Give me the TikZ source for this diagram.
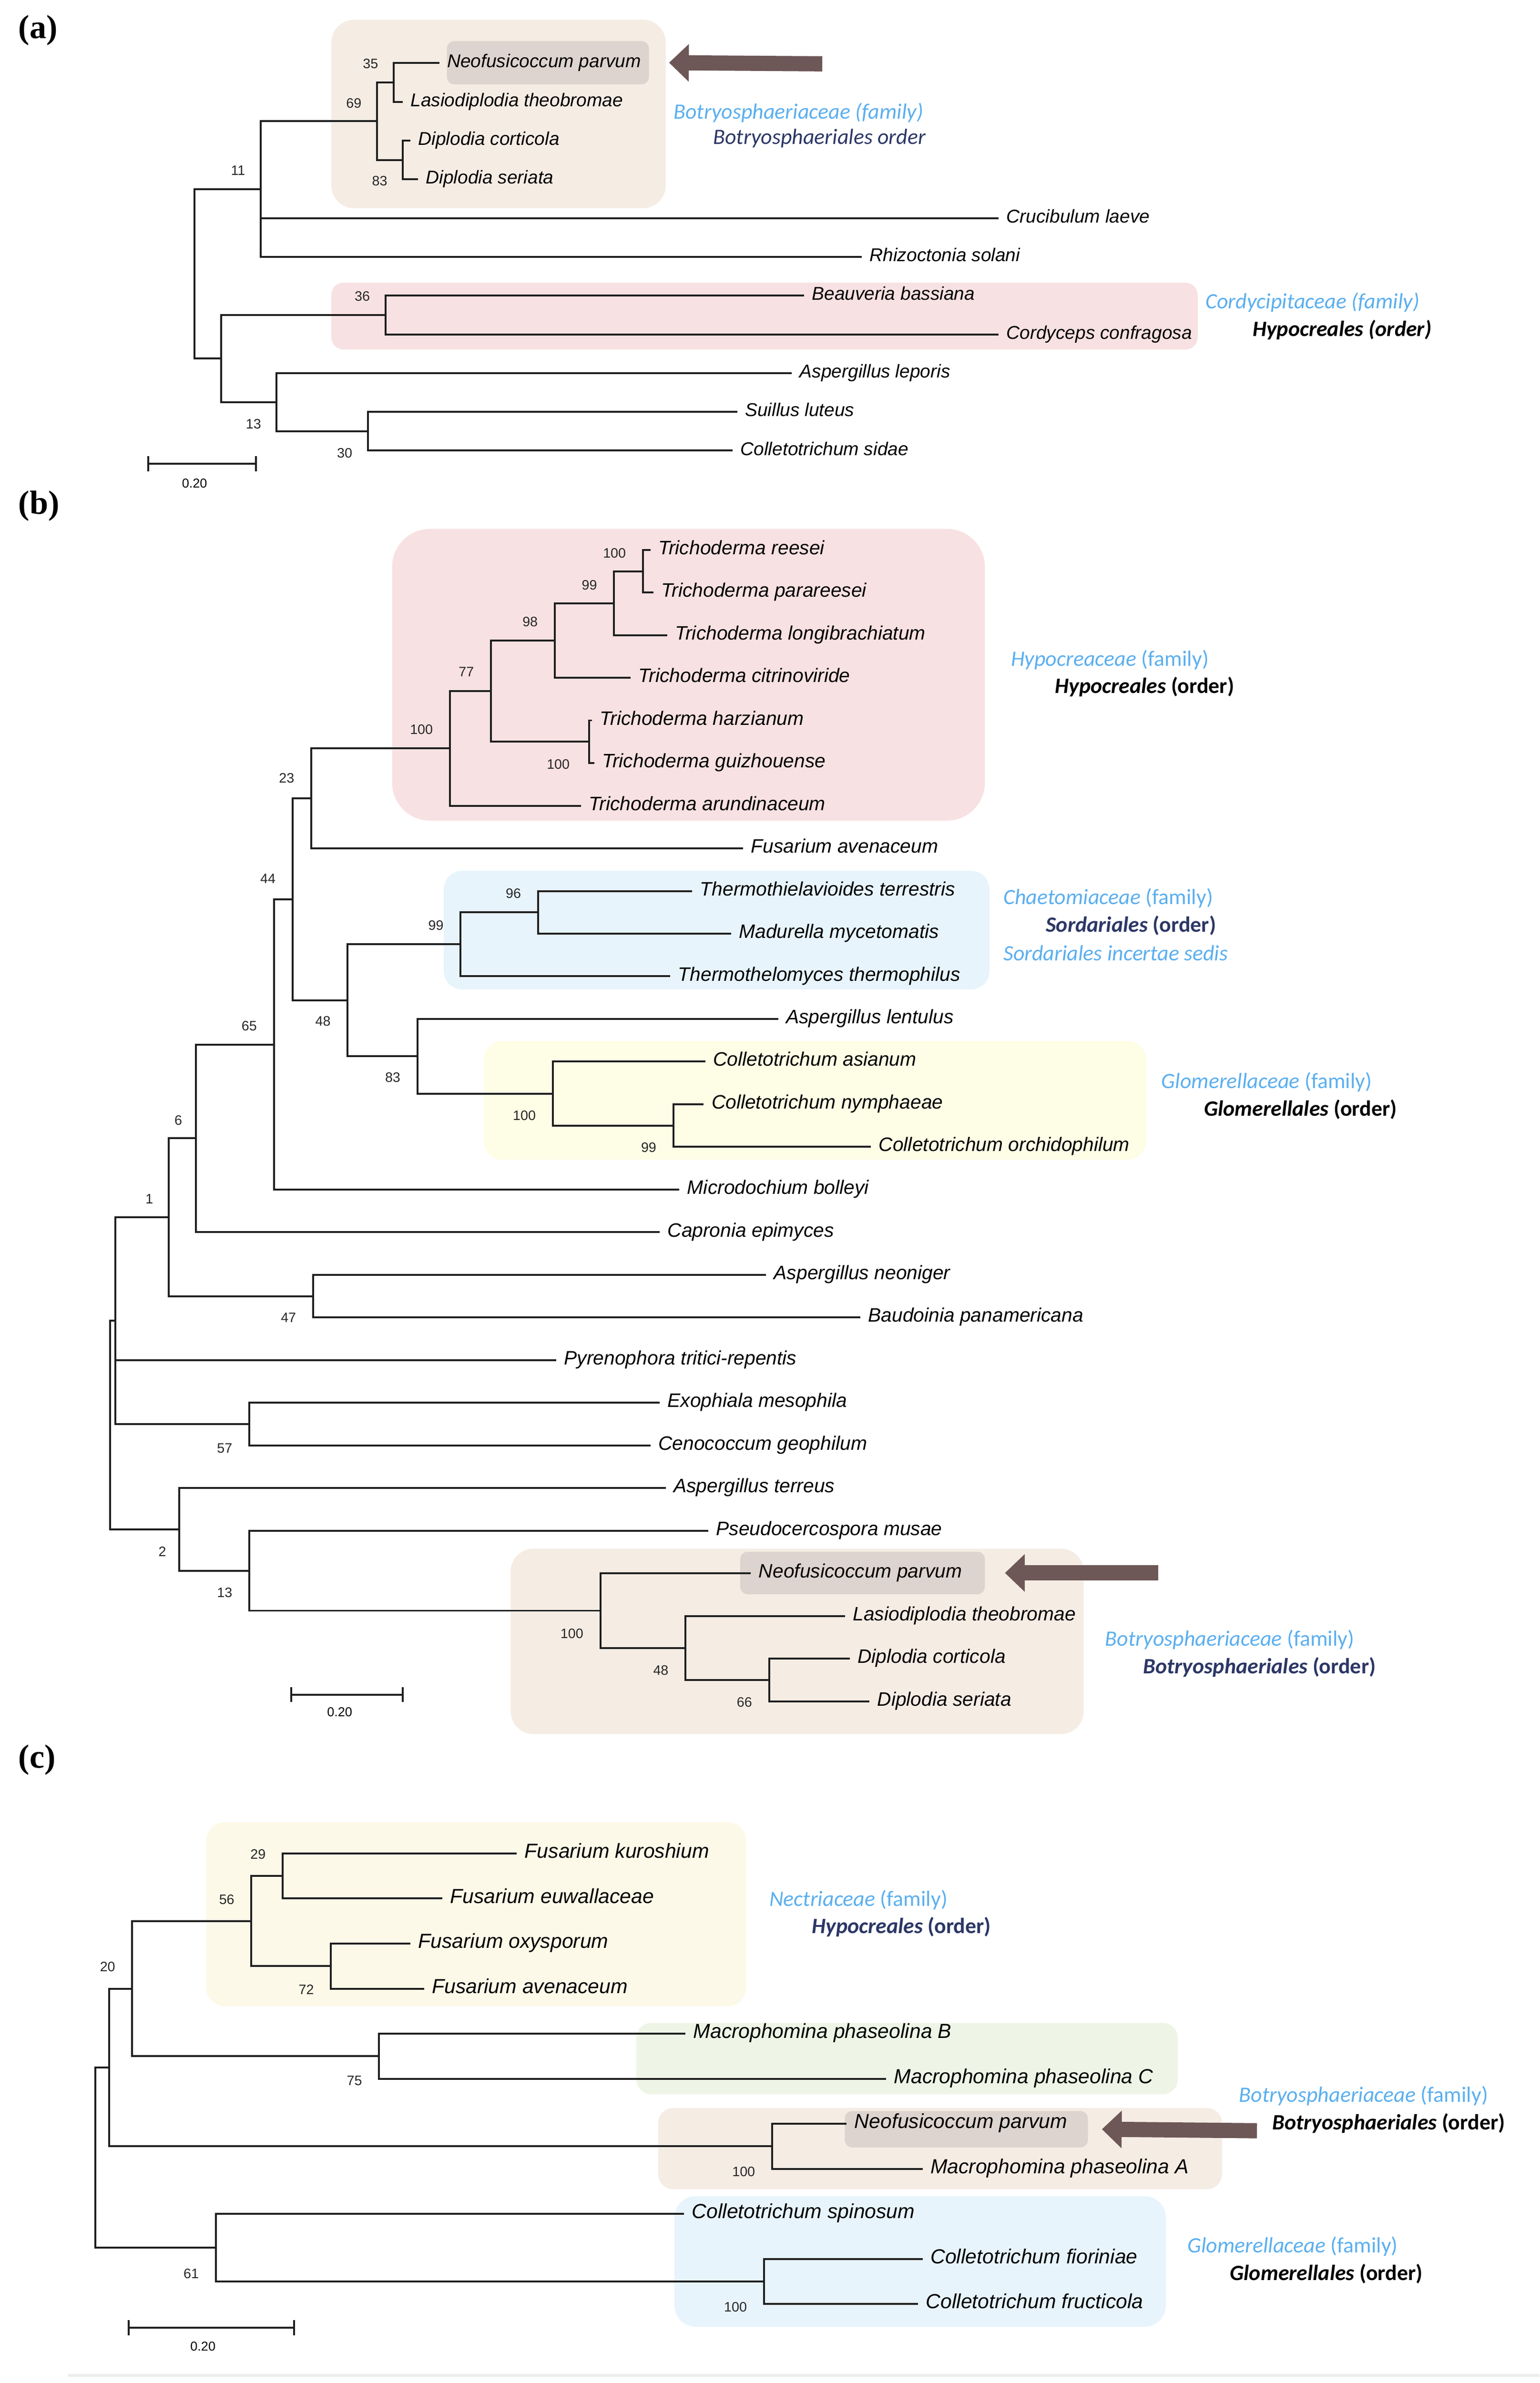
\documentclass[tikz,border=0pt]{standalone}
\usepackage{fontspec}
\setmainfont{Liberation Serif}
\setsansfont{Liberation Sans}
\newfontfamily\calfont{Carlito}
\usetikzlibrary{arrows.meta}

\definecolor{boxtan}{HTML}{F5ECE4}
\definecolor{boxpink}{HTML}{F8E1E2}
\definecolor{boxblue}{HTML}{E7F4FC}
\definecolor{boxyellow}{HTML}{FEFDE5}
\definecolor{boxcream}{HTML}{FDF9E8}
\definecolor{boxgreen}{HTML}{EEF5E6}
\definecolor{hlgray}{HTML}{DDD4CF}
\definecolor{arrowbrown}{HTML}{6D5757}
\definecolor{famblue}{HTML}{5BAFEF}
\definecolor{ordnavy}{HTML}{2C3766}
\definecolor{twigcol}{HTML}{1E1E1E}

\newcommand{\fsz}[1]{\fontsize{#1}{#1}\selectfont}

\tikzset{
  taxon/.style={anchor=west, inner xsep=5pt, inner ysep=0pt, text height=8.5pt, text depth=2.5pt, font=\sffamily\itshape\fsz{#1}},
  taxA/.style={taxon=12.2},
  taxB/.style={taxon=12.8},
  taxC/.style={taxon=13.4},
  boot/.style={anchor=east, inner sep=0pt, font=\sffamily\fsz{9}, text=black!85},
  twig/.style={draw=twigcol, line width=1.25pt},
  fam/.style={anchor=west, inner sep=0pt, font=\calfont\fsz{14.4}, text=famblue},
  ord/.style={anchor=west, inner sep=0pt, font=\calfont\bfseries\fsz{14.4}, text=#1},
  hl/.style={fill=hlgray, rounded corners=5pt, inner sep=0pt},
  fatarrow/.style={draw=arrowbrown, line width=10pt, -{Triangle[length=13pt, width=24pt]}},
  scalebar/.style={draw=twigcol, line width=1.25pt, {Bar[width=10pt]}-{Bar[width=10pt]}},
  sclabel/.style={inner sep=0pt, font=\sffamily\fsz{8.5}},
  panel/.style={anchor=west, inner sep=0pt, font=\rmfamily\bfseries\fsz{22}}
}

\begin{document}
\begin{tikzpicture}[x=1pt,y=-1pt]
\useasboundingbox (0,0) rectangle (1013,1568);

% ---------------- (a)
\node[panel] (pa) at (12,20) {(a)};

\fill[boxtan, rounded corners=15pt] (218,13) rectangle (438,137);
\fill[boxpink, rounded corners=8pt] (218,186) rectangle (788,230);
\node[hl, minimum width=133pt, minimum height=28.5pt] (aHl) at (360.5,41.25) {};

\node[taxA] (aNp) at (289,41.5) {Neofusicoccum parvum};
\node[taxA] (aLt) at (265,67) {Lasiodiplodia theobromae};
\node[taxA] (aDc) at (270,92.5) {Diplodia corticola};
\node[taxA] (aDs) at (275,118) {Diplodia seriata};
\node[taxA] (aCl) at (657,143.5) {Crucibulum laeve};
\node[taxA] (aRs) at (567,169) {Rhizoctonia solani};
\node[taxA] (aBb) at (529,194.5) {Beauveria bassiana};
\node[taxA] (aCc) at (657,220) {Cordyceps confragosa};
\node[taxA] (aAl) at (521,245.5) {Aspergillus leporis};
\node[taxA] (aSl) at (485,271) {Suillus luteus};
\node[taxA] (aCs) at (482,296.5) {Colletotrichum sidae};

\coordinate (a35) at (259,54.25);
\coordinate (a83) at (265,105.25);
\coordinate (a69) at (248,79.75);
\coordinate (a11) at (171.5,124.4);
\coordinate (a36) at (253.6,207.25);
\coordinate (a30) at (242,283.75);
\coordinate (a13) at (182,264.6);
\coordinate (aB) at (145.6,235.9);
\coordinate (aR) at (128,180.2);

\draw[twig] (a35) |- (aNp.west);
\draw[twig] (a35) |- (aLt.west);
\draw[twig] (a83) |- (aDc.west);
\draw[twig] (a83) |- (aDs.west);
\draw[twig] (a69) |- (a35);
\draw[twig] (a69) |- (a83);
\draw[twig] (a11) |- (a69);
\draw[twig] (a11) |- (aCl.west);
\draw[twig] (a11) |- (aRs.west);
\draw[twig] (a36) |- (aBb.west);
\draw[twig] (a36) |- (aCc.west);
\draw[twig] (a30) |- (aSl.west);
\draw[twig] (a30) |- (aCs.west);
\draw[twig] (a13) |- (aAl.west);
\draw[twig] (a13) |- (a30);
\draw[twig] (aB) |- (a36);
\draw[twig] (aB) |- (a13);
\draw[twig] (aR) |- (a11);
\draw[twig] (aR) |- (aB);

\node[boot] (ba35) at (249,42) {35};
\node[boot] (ba69) at (238,68) {69};
\node[boot] (ba83) at (255,119) {83};
\node[boot] (ba11) at (161.5,112) {11};
\node[boot] (ba36) at (243.6,195) {36};
\node[boot] (ba13) at (172,279) {13};
\node[boot] (ba30) at (232,298) {30};

\coordinate (aArr) at (541,42);
\draw[fatarrow] (aArr) -- ([xshift=13pt]aHl.east);

\node[fam] (aFam1) at (443,74) {\itshape Botryosphaeriaceae (family)};
\node[fam, text=ordnavy] (aOrd1) at (469,91) {\itshape Botryosphaeriales order};
\node[fam] (aFam2) at (793,199) {\itshape Cordycipitaceae (family)};
\node[ord=black] (aOrd2) at (824,217) {\itshape Hypocreales (order)};

\coordinate (aSb1) at (97,305);
\coordinate (aSb2) at (169,305);
\draw[scalebar] (aSb1) -- (aSb2);
\node[sclabel] (aSbl) at (128,318) {0.20};

% ---------------- (b)
\node[panel] (pb) at (12,333) {(b)};

\fill[boxpink, rounded corners=25pt] (258,348) rectangle (648,540);
\fill[boxblue, rounded corners=12pt] (292,573) rectangle (651,651);
\fill[boxyellow, rounded corners=12pt] (318.5,685) rectangle (754,763);
\fill[boxtan, rounded corners=15pt] (336,1019) rectangle (713,1141);
\node[hl, minimum width=161pt, minimum height=28pt] (bHl) at (567.5,1035) {};

\node[taxB] (bTr) at (428,361.8) {Trichoderma reesei};
\node[taxB] (bTp) at (430,389.9) {Trichoderma parareesei};
\node[taxB] (bTl) at (439,417.9) {Trichoderma longibrachiatum};
\node[taxB] (bTc) at (415,446.0) {Trichoderma citrinoviride};
\node[taxB] (bTh) at (389.5,474.0) {Trichoderma harzianum};
\node[taxB] (bTg) at (391,502.1) {Trichoderma guizhouense};
\node[taxB] (bTa) at (382.4,530.2) {Trichoderma arundinaceum};
\node[taxB] (bFa) at (489,558.2) {Fusarium avenaceum};
\node[taxB] (bTt) at (455.4,586.3) {Thermothielavioides terrestris};
\node[taxB] (bMm) at (481,614.3) {Madurella mycetomatis};
\node[taxB] (bTm) at (441,642.4) {Thermothelomyces thermophilus};
\node[taxB] (bAl) at (512,670.5) {Aspergillus lentulus};
\node[taxB] (bCa) at (464,698.5) {Colletotrichum asianum};
\node[taxB] (bCn) at (463,726.6) {Colletotrichum nymphaeae};
\node[taxB] (bCo) at (573,754.6) {Colletotrichum orchidophilum};
\node[taxB] (bMb) at (447,782.7) {Microdochium bolleyi};
\node[taxB] (bCe) at (434,810.8) {Capronia epimyces};
\node[taxB] (bAn) at (504,838.8) {Aspergillus neoniger};
\node[taxB] (bBp) at (566,866.9) {Baudoinia panamericana};
\node[taxB] (bPt) at (366,894.9) {Pyrenophora tritici-repentis};
\node[taxB] (bEm) at (434,923.0) {Exophiala mesophila};
\node[taxB] (bCg) at (428,951.1) {Cenococcum geophilum};
\node[taxB] (bAt) at (438,979.1) {Aspergillus terreus};
\node[taxB] (bPm) at (466,1007.2) {Pseudocercospora musae};
\node[taxB] (bNp) at (494,1035.2) {Neofusicoccum parvum};
\node[taxB] (bLt) at (556,1063.3) {Lasiodiplodia theobromae};
\node[taxB] (bDc) at (559,1091.4) {Diplodia corticola};
\node[taxB] (bDs) at (572,1119.4) {Diplodia seriata};

\coordinate (b100a) at (423,375.85);
\coordinate (b99a) at (404,396.9);
\coordinate (b98) at (365,421.45);
\coordinate (b100b) at (387.6,488.05);
\coordinate (b77) at (323,454.75);
\coordinate (b100c) at (296,492.5);
\coordinate (b23) at (204.8,525.35);
\coordinate (b96) at (354,600.3);
\coordinate (b99b) at (303,621.35);
\coordinate (b99c) at (443,740.6);
\coordinate (b100d) at (363.7,719.55);
\coordinate (b83) at (274.6,695.0);
\coordinate (b48a) at (228.7,658.2);
\coordinate (b44) at (192.5,591.8);
\coordinate (b65) at (180.2,687.25);
\coordinate (b6) at (129,749.0);
\coordinate (b47) at (206,852.85);
\coordinate (b1) at (111,800.9);
\coordinate (b57) at (164,937.05);
\coordinate (bP) at (76,869.0);
\coordinate (b66) at (506,1105.4);
\coordinate (b48b) at (451,1084.35);
\coordinate (b100e) at (395,1059.8);
\coordinate (b13) at (164,1033.5);
\coordinate (b2) at (118,1006.3);
\coordinate (bR) at (72.4,937.65);

\draw[twig] (b100a) |- (bTr.west);
\draw[twig] (b100a) |- (bTp.west);
\draw[twig] (b99a) |- (b100a);
\draw[twig] (b99a) |- (bTl.west);
\draw[twig] (b98) |- (b99a);
\draw[twig] (b98) |- (bTc.west);
\draw[twig] (b100b) |- (bTh.west);
\draw[twig] (b100b) |- (bTg.west);
\draw[twig] (b77) |- (b98);
\draw[twig] (b77) |- (b100b);
\draw[twig] (b100c) |- (b77);
\draw[twig] (b100c) |- (bTa.west);
\draw[twig] (b23) |- (b100c);
\draw[twig] (b23) |- (bFa.west);
\draw[twig] (b96) |- (bTt.west);
\draw[twig] (b96) |- (bMm.west);
\draw[twig] (b99b) |- (b96);
\draw[twig] (b99b) |- (bTm.west);
\draw[twig] (b99c) |- (bCn.west);
\draw[twig] (b99c) |- (bCo.west);
\draw[twig] (b100d) |- (bCa.west);
\draw[twig] (b100d) |- (b99c);
\draw[twig] (b83) |- (bAl.west);
\draw[twig] (b83) |- (b100d);
\draw[twig] (b48a) |- (b99b);
\draw[twig] (b48a) |- (b83);
\draw[twig] (b44) |- (b23);
\draw[twig] (b44) |- (b48a);
\draw[twig] (b65) |- (b44);
\draw[twig] (b65) |- (bMb.west);
\draw[twig] (b6) |- (b65);
\draw[twig] (b6) |- (bCe.west);
\draw[twig] (b47) |- (bAn.west);
\draw[twig] (b47) |- (bBp.west);
\draw[twig] (b1) |- (b6);
\draw[twig] (b1) |- (b47);
\draw[twig] (b57) |- (bEm.west);
\draw[twig] (b57) |- (bCg.west);
\draw[twig] (bP) |- (b1);
\draw[twig] (bP) |- (bPt.west);
\draw[twig] (bP) |- (b57);
\draw[twig] (b66) |- (bDc.west);
\draw[twig] (b66) |- (bDs.west);
\draw[twig] (b48b) |- (bLt.west);
\draw[twig] (b48b) |- (b66);
\draw[twig] (b100e) |- (bNp.west);
\draw[twig] (b100e) |- (b48b);
\draw[twig] (b13) |- (bPm.west);
\draw[twig] (b13) |- (b100e);
\draw[twig] (b2) |- (bAt.west);
\draw[twig] (b2) |- (b13);
\draw[twig] (bR) |- (bP);
\draw[twig] (bR) |- (b2);

\node[boot] (bb100a) at (412,364) {100};
\node[boot] (bb99a) at (393,385) {99};
\node[boot] (bb98) at (354,409) {98};
\node[boot] (bb77) at (312,442) {77};
\node[boot] (bb100b) at (375,503) {100};
\node[boot] (bb100c) at (285,480) {100};
\node[boot] (bb23) at (193.8,512) {23};
\node[boot] (bb44) at (181.5,578) {44};
\node[boot] (bb96) at (343,588) {96};
\node[boot] (bb99b) at (292,609) {99};
\node[boot] (bb48a) at (217.7,672) {48};
\node[boot] (bb83) at (263.6,709) {83};
\node[boot] (bb100d) at (352.7,734) {100};
\node[boot] (bb99c) at (432,755) {99};
\node[boot] (bb65) at (169.2,675) {65};
\node[boot] (bb6) at (120,737) {6};
\node[boot] (bb1) at (101,789) {1};
\node[boot] (bb47) at (195,867) {47};
\node[boot] (bb57) at (153,953) {57};
\node[boot] (bb2) at (109.5,1021) {2};
\node[boot] (bb13) at (153,1048) {13};
\node[boot] (bb100e) at (384,1075) {100};
\node[boot] (bb48b) at (440,1099) {48};
\node[boot] (bb66) at (495,1120) {66};

\coordinate (bArr) at (762,1035);
\draw[fatarrow] (bArr) -- ([xshift=13pt]bHl.east);

\node[fam] (bFam1) at (665,434) {\textit{Hypocreaceae} (family)};
\node[ord=black] (bOrd1) at (694,452) {\textit{Hypocreales} (order)};
\node[fam] (bFam2) at (660,591) {\textit{Chaetomiaceae} (family)};
\node[ord=ordnavy] (bOrd2) at (688,609) {\textit{Sordariales} (order)};
\node[fam] (bFam3) at (660,627) {\itshape Sordariales incertae sedis};
\node[fam] (bFam4) at (764,712) {\textit{Glomerellaceae} (family)};
\node[ord=black] (bOrd4) at (792,730) {\textit{Glomerellales} (order)};
\node[fam] (bFam5) at (727,1079) {\textit{Botryosphaeriaceae} (family)};
\node[ord=ordnavy] (bOrd5) at (752,1097) {\textit{Botryosphaeriales} (order)};

\coordinate (bSb1) at (191,1115);
\coordinate (bSb2) at (265.5,1115);
\draw[scalebar] (bSb1) -- (bSb2);
\node[sclabel] (bSbl) at (223.5,1126.5) {0.20};

% ---------------- (c)
\node[panel] (pc) at (12,1158) {(c)};

\fill[boxcream, rounded corners=12pt] (135.7,1199) rectangle (491,1320);
\fill[boxgreen, rounded corners=10pt] (418.6,1331) rectangle (775,1378);
\fill[boxtan, rounded corners=10pt] (433,1387) rectangle (804,1440.5);
\fill[boxblue, rounded corners=14pt] (443.8,1445) rectangle (767,1531);
\node[hl, minimum width=160pt, minimum height=24pt] (cHl) at (635.8,1401) {};

\node[taxC] (cFk) at (340,1219.6) {Fusarium kuroshium};
\node[taxC] (cFe) at (291,1249.2) {Fusarium euwallaceae};
\node[taxC] (cFo) at (270,1278.9) {Fusarium oxysporum};
\node[taxC] (cFa) at (279,1308.5) {Fusarium avenaceum};
\node[taxC] (cMb) at (451,1338.2) {Macrophomina phaseolina B};
\node[taxC] (cMc) at (583,1367.8) {Macrophomina phaseolina C};
\node[taxC] (cNp) at (557,1397.4) {Neofusicoccum parvum};
\node[taxC] (cMa) at (607,1427.1) {Macrophomina phaseolina A};
\node[taxC] (cCs) at (450,1456.7) {Colletotrichum spinosum};
\node[taxC] (cCf) at (607,1486.4) {Colletotrichum fioriniae};
\node[taxC] (cCr) at (604,1516) {Colletotrichum fructicola};

\coordinate (c29) at (186,1234.4);
\coordinate (c72) at (217.7,1293.7);
\coordinate (c56) at (165.4,1264.05);
\coordinate (c75) at (249.4,1353.0);
\coordinate (c20) at (87,1308.5);
\coordinate (c100a) at (508,1412.25);
\coordinate (cX) at (71.7,1360.4);
\coordinate (c100b) at (502.6,1501.2);
\coordinate (c61) at (142,1478.95);
\coordinate (cR) at (62.7,1419.7);

\draw[twig] (c29) |- (cFk.west);
\draw[twig] (c29) |- (cFe.west);
\draw[twig] (c72) |- (cFo.west);
\draw[twig] (c72) |- (cFa.west);
\draw[twig] (c56) |- (c29);
\draw[twig] (c56) |- (c72);
\draw[twig] (c75) |- (cMb.west);
\draw[twig] (c75) |- (cMc.west);
\draw[twig] (c20) |- (c56);
\draw[twig] (c20) |- (c75);
\draw[twig] (c100a) |- (cNp.west);
\draw[twig] (c100a) |- (cMa.west);
\draw[twig] (cX) |- (c20);
\draw[twig] (cX) |- (c100a);
\draw[twig] (c100b) |- (cCf.west);
\draw[twig] (c100b) |- (cCr.west);
\draw[twig] (c61) |- (cCs.west);
\draw[twig] (c61) |- (c100b);
\draw[twig] (cR) |- (cX);
\draw[twig] (cR) |- (c61);

\node[boot] (bc29) at (175,1220) {29};
\node[boot] (bc56) at (154.4,1250) {56};
\node[boot] (bc72) at (206.7,1309) {72};
\node[boot] (bc20) at (76,1294) {20};
\node[boot] (bc75) at (238.4,1369) {75};
\node[boot] (bc100a) at (497,1429) {100};
\node[boot] (bc61) at (131,1496) {61};
\node[boot] (bc100b) at (491.6,1518) {100};

\coordinate (cArr) at (827,1402);
\draw[fatarrow] (cArr) -- ([xshift=9pt]cHl.east);

\node[fam] (cFam1) at (506,1250) {\textit{Nectriaceae} (family)};
\node[ord=ordnavy] (cOrd1) at (534,1268) {\textit{Hypocreales} (order)};
\node[fam] (cFam2) at (815,1379) {\textit{Botryosphaeriaceae} (family)};
\node[ord=black] (cOrd2) at (837,1397) {\textit{Botryosphaeriales} (order)};
\node[fam] (cFam3) at (781,1478) {\textit{Glomerellaceae} (family)};
\node[ord=black] (cOrd3) at (809,1496) {\textit{Glomerellales} (order)};

\coordinate (cSb1) at (84,1531.6);
\coordinate (cSb2) at (194,1531.6);
\draw[scalebar] (cSb1) -- (cSb2);
\node[sclabel] (cSbl) at (133.5,1544) {0.20};

\coordinate (rule1) at (45,1563);
\coordinate (rule2) at (1013,1563);
\draw[black!7, line width=2pt] (rule1) -- (rule2);
\end{tikzpicture}
\end{document}
